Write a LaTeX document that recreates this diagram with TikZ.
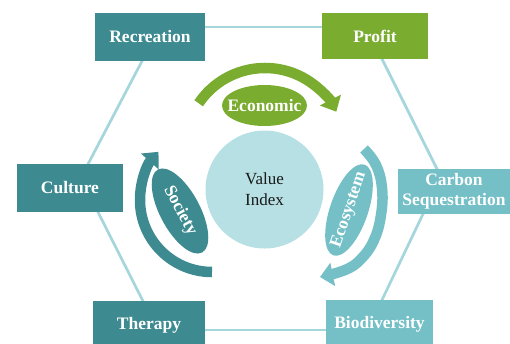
\documentclass[tikz,border=0pt]{standalone}
\usepackage{fontspec}
\setmainfont{Liberation Serif}
\usetikzlibrary{arrows.meta,shapes.geometric}
\definecolor{dteal}{HTML}{3D8B91}
\definecolor{lteal}{HTML}{74C0C6}
\definecolor{grn}{HTML}{7AAC30}
\definecolor{circ}{HTML}{B7E0E4}
\definecolor{hexl}{HTML}{A5D6DB}
\begin{document}
\begin{tikzpicture}[x=1pt,y=-1pt,
  box/.style={rectangle, inner sep=0pt, text=white, align=center,
    font=\fontsize{17.5}{20.5}\selectfont\bfseries},
  lab/.style={inner sep=0pt, text=white, font=\fontsize{17.5}{20.5}\selectfont\bfseries},
  hexline/.style={draw=hexl, line width=2.7pt},
  band/.style={line width=10.5pt, -{Triangle[length=13pt,width=23pt]}},
  oval/.style={ellipse, inner sep=0pt}]
\useasboundingbox (0,0) rectangle (510,343);
\clip (0,0) rectangle (510,343);
% hexagon connectors
\coordinate (rp1) at (150,27);   \coordinate (rp2) at (375,27);
\coordinate (rc1) at (147.8,50); \coordinate (rc2) at (82.3,175);
\coordinate (ct1) at (91.9,200); \coordinate (ct2) at (150,315);
\coordinate (tb1) at (150,330);  \coordinate (tb2) at (380,330);
\coordinate (pc1) at (377.5,50); \coordinate (pc2) at (442.5,180);
\coordinate (cb1) at (427.3,205);\coordinate (cb2) at (377.2,310);
\draw[hexline] (rp1) -- (rp2);
\draw[hexline] (rc1) -- (rc2);
\draw[hexline] (ct1) -- (ct2);
\draw[hexline] (tb1) -- (tb2);
\draw[hexline] (pc1) -- (pc2);
\draw[hexline] (cb1) -- (cb2);
% boxes
\node[box, fill=dteal, minimum width=110pt, minimum height=48pt] (rec) at (150,37) {Recreation};
\node[box, fill=grn, minimum width=106pt, minimum height=46pt] (prof) at (375,36) {Profit};
\node[box, fill=dteal, minimum width=106pt, minimum height=48pt] (cul) at (70,188) {Culture};
\node[box, fill=lteal, minimum width=112pt, minimum height=45pt] (carb) at (454,191.5) {Carbon\\Sequestration};
\node[box, fill=dteal, minimum width=112pt, minimum height=48pt] (ther) at (149,325) {Therapy};
\node[box, fill=lteal, minimum width=107pt, minimum height=48pt] (bio) at (379.5,324) {Biodiversity};
% centre
\node[circle, fill=circ, minimum size=118pt, inner sep=0pt, align=center,
  font=\fontsize{17}{21}\selectfont, text=black!90] (vi) at (264.5,189.5) {Value\\Index};
% circular arrows
\draw[band, grn] ([shift={(214:80)}]265,148) arc[start angle=214, end angle=333, radius=80];
\draw[band, dteal] ([shift={(90:72)}]212,200) arc[start angle=90, end angle=222, radius=72];
\draw[band, lteal] plot[smooth, tension=0.7] coordinates {(364,149) (376,165) (382,188) (381,215) (374,240) (361,259) (345,270) (320,277)};
% ellipses
\node[oval, fill=grn, minimum width=85pt, minimum height=41pt] (econ) at (264.5,105.5) {};
\node[lab] at (econ) {Economic};
\node[oval, fill=dteal, minimum width=94pt, minimum height=40pt, rotate=-62] (soc) at (180,211) {};
\node[lab, rotate=-62] at (soc) {Society};
\node[oval, fill=lteal, minimum width=96pt, minimum height=38pt, rotate=71] (eco) at (349,210) {};
\node[lab, rotate=71] at (eco) {Ecosystem};
\end{tikzpicture}
\end{document}
